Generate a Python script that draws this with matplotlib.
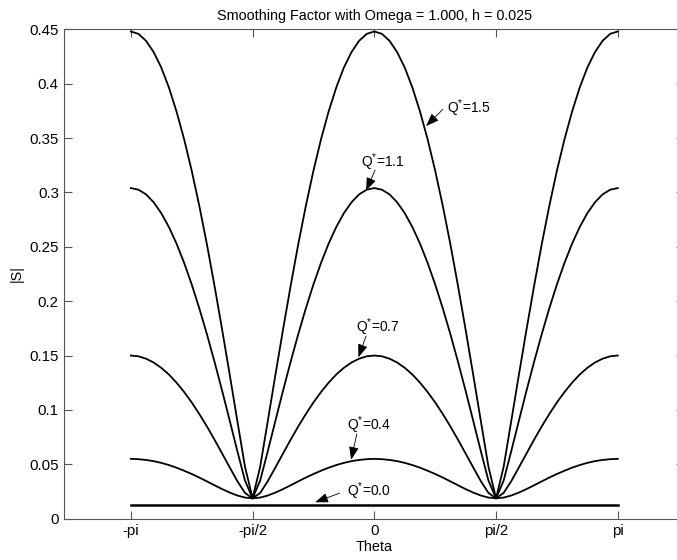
import matplotlib
matplotlib.use("Agg")
import matplotlib.pyplot as plt
import numpy as np

plt.rcParams['font.family'] = ['Liberation Sans', 'DejaVu Sans']
plt.rcParams['mathtext.fontset'] = 'custom'
plt.rcParams['mathtext.rm'] = 'Liberation Sans'
plt.rcParams['mathtext.it'] = 'Liberation Sans:italic'

# theta grid, -pi .. pi in steps of pi/32
theta = np.linspace(-np.pi, np.pi, 65)

# |S| for each Q*, sampled on the theta grid above
s_q15 = [0.448, 0.4458, 0.4394, 0.4290, 0.4148, 0.3965, 0.3745, 0.3490, 0.3200,
         0.2876, 0.2522, 0.2140, 0.1738, 0.1322, 0.0898, 0.0478, 0.0187,
         0.0478, 0.0898, 0.1322, 0.1738, 0.2140, 0.2522, 0.2876, 0.3200,
         0.3490, 0.3745, 0.3965, 0.4148, 0.4290, 0.4394, 0.4458, 0.448,
         0.4458, 0.4394, 0.4290, 0.4148, 0.3965, 0.3745, 0.3490, 0.3200,
         0.2876, 0.2522, 0.2140, 0.1738, 0.1322, 0.0898, 0.0478, 0.0187,
         0.0478, 0.0898, 0.1322, 0.1738, 0.2140, 0.2522, 0.2876, 0.3200,
         0.3490, 0.3745, 0.3965, 0.4148, 0.4290, 0.4394, 0.4458, 0.448]
s_q11 = [0.304, 0.3025, 0.2982, 0.2909, 0.2809, 0.2682, 0.2530, 0.2353, 0.2154,
         0.1934, 0.1696, 0.1442, 0.1176, 0.0900, 0.0621, 0.0351, 0.0187,
         0.0351, 0.0621, 0.0900, 0.1176, 0.1442, 0.1696, 0.1934, 0.2154,
         0.2353, 0.2530, 0.2682, 0.2809, 0.2909, 0.2982, 0.3025, 0.304,
         0.3025, 0.2982, 0.2909, 0.2809, 0.2682, 0.2530, 0.2353, 0.2154,
         0.1934, 0.1696, 0.1442, 0.1176, 0.0900, 0.0621, 0.0351, 0.0187,
         0.0351, 0.0621, 0.0900, 0.1176, 0.1442, 0.1696, 0.1934, 0.2154,
         0.2353, 0.2530, 0.2682, 0.2809, 0.2909, 0.2982, 0.3025, 0.304]
s_q07 = [0.150, 0.1493, 0.1471, 0.1436, 0.1387, 0.1326, 0.1251, 0.1165, 0.1069,
         0.0962, 0.0848, 0.0726, 0.0599, 0.0471, 0.0345, 0.0237, 0.0187,
         0.0237, 0.0345, 0.0471, 0.0599, 0.0726, 0.0848, 0.0962, 0.1069,
         0.1165, 0.1251, 0.1326, 0.1387, 0.1436, 0.1471, 0.1493, 0.150,
         0.1493, 0.1471, 0.1436, 0.1387, 0.1326, 0.1251, 0.1165, 0.1069,
         0.0962, 0.0848, 0.0726, 0.0599, 0.0471, 0.0345, 0.0237, 0.0187,
         0.0237, 0.0345, 0.0471, 0.0599, 0.0726, 0.0848, 0.0962, 0.1069,
         0.1165, 0.1251, 0.1326, 0.1387, 0.1436, 0.1471, 0.1493, 0.150]
s_q04 = [0.055, 0.0547, 0.0540, 0.0529, 0.0513, 0.0493, 0.0469, 0.0441, 0.0411,
         0.0378, 0.0343, 0.0307, 0.0272, 0.0240, 0.0213, 0.0194, 0.0187,
         0.0194, 0.0213, 0.0240, 0.0272, 0.0307, 0.0343, 0.0378, 0.0411,
         0.0441, 0.0469, 0.0493, 0.0513, 0.0529, 0.0540, 0.0547, 0.055,
         0.0547, 0.0540, 0.0529, 0.0513, 0.0493, 0.0469, 0.0441, 0.0411,
         0.0378, 0.0343, 0.0307, 0.0272, 0.0240, 0.0213, 0.0194, 0.0187,
         0.0194, 0.0213, 0.0240, 0.0272, 0.0307, 0.0343, 0.0378, 0.0411,
         0.0441, 0.0469, 0.0493, 0.0513, 0.0529, 0.0540, 0.0547, 0.055]
s_q00 = [0.0129] * 65

xtick_vals = [-np.pi, -np.pi / 2, 0, np.pi / 2, np.pi]
xtick_labels = ['-pi', '-pi/2', '0', 'pi/2', 'pi']
ytick_vals = [0, 0.05, 0.1, 0.15, 0.2, 0.25, 0.3, 0.35, 0.4, 0.45]
ytick_labels = ['0', '0.05', '0.1', '0.15', '0.2', '0.25', '0.3', '0.35', '0.4', '0.45']

fig = plt.figure(figsize=(6.77, 5.6), dpi=100)
ax = fig.add_axes([0.095, 0.0738, 0.9158, 0.8739])

for s in (s_q15, s_q11, s_q07, s_q04):
    ax.plot(theta, s, color='black', linewidth=1.3)
ax.plot(theta, s_q00, color='black', linewidth=1.8)

ax.set_xlim(-4, 4)
ax.set_ylim(0, 0.45)
ax.set_xticks(xtick_vals)
ax.set_xticklabels(xtick_labels)
ax.set_yticks(ytick_vals)
ax.set_yticklabels(ytick_labels)
ax.tick_params(direction='in', length=6, width=0.8, color='#555555',
               top=True, right=True, labelsize=10.8, pad=4)
for sp in ax.spines.values():
    sp.set_color('#555555')
    sp.set_linewidth(0.8)

ax.set_title('Smoothing Factor with Omega = 1.000, h = 0.025', fontsize=10.4, pad=7)
ax.set_xlabel('Theta', fontsize=10.4, labelpad=1)
ax.set_ylabel('|S|', fontsize=10.4, labelpad=4)

# text arrows: (label, text pos, arrow tail, arrow tip)
notes = [
    ('Q$^{\\mathrm{*}}$=1.5', (0.935, 0.3776), (0.884, 0.3764), (0.668, 0.3610)),
    ('Q$^{\\mathrm{*}}$=1.1', (-0.174, 0.3282), (0.010, 0.3206), (-0.106, 0.3016)),
    ('Q$^{\\mathrm{*}}$=0.7', (-0.235, 0.1765), (-0.106, 0.1680), (-0.205, 0.1484)),
    ('Q$^{\\mathrm{*}}$=0.4', (-0.355, 0.0855), (-0.226, 0.0779), (-0.299, 0.0541)),
    ('Q$^{\\mathrm{*}}$=0.0', (-0.355, 0.0255), (-0.450, 0.0234), (-0.764, 0.0151)),
]
for label, tpos, tail, tip in notes:
    ax.text(tpos[0], tpos[1], label, fontsize=10, ha='left', va='center')
    ax.annotate('', xy=tip, xytext=tail,
                arrowprops=dict(arrowstyle='-|>,head_length=0.8,head_width=0.3',
                                color='black', lw=0.6,
                                mutation_scale=10, shrinkA=0, shrinkB=0))

fig.savefig('out.png', dpi=100)
